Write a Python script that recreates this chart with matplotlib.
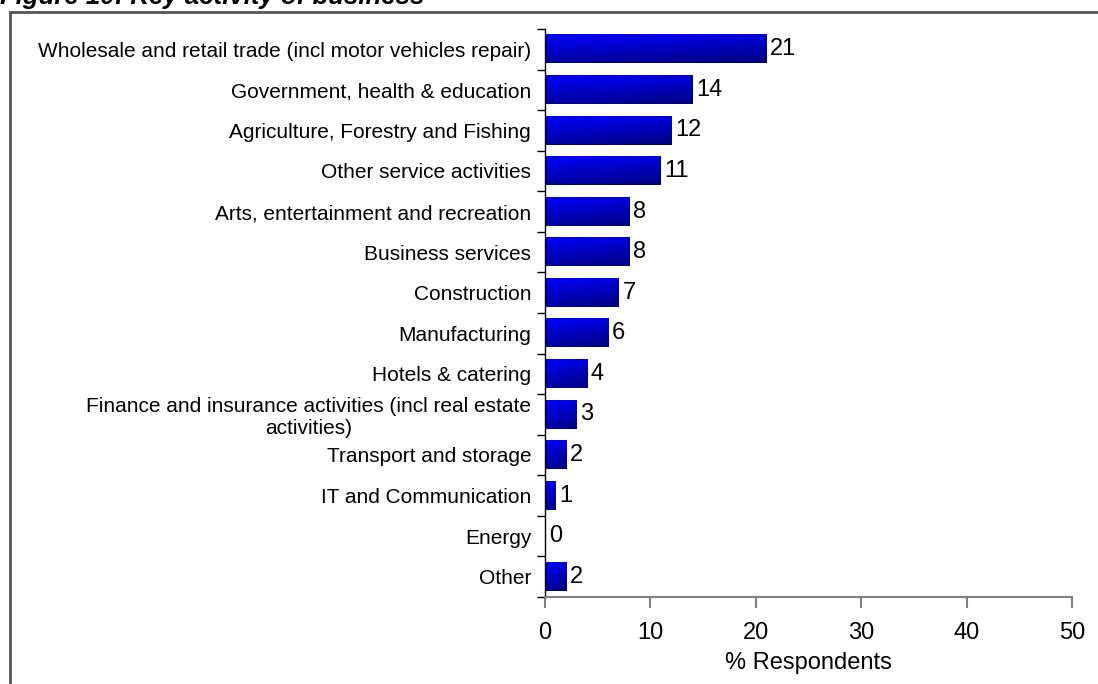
import matplotlib.pyplot as plt
import numpy as np
from matplotlib.patches import Rectangle

plt.rcParams['font.family'] = ['Liberation Sans', 'DejaVu Sans']

activities = [
    "Wholesale and retail trade (incl motor vehicles repair)",
    "Government, health & education",
    "Agriculture, Forestry and Fishing",
    "Other service activities",
    "Arts, entertainment and recreation",
    "Business services",
    "Construction",
    "Manufacturing",
    "Hotels & catering",
    "Finance and insurance activities (incl real estate\nactivities)",
    "Transport and storage",
    "IT and Communication",
    "Energy",
    "Other",
]
pct = [21, 14, 12, 11, 8, 8, 7, 6, 4, 3, 2, 1, 0, 2]

fig = plt.figure(figsize=(10.98, 6.84), dpi=100)
ax = fig.add_axes([0.4964, 0.1272, 0.4799, 0.8304])

# frame around the whole figure
fig.patches.append(Rectangle((10 / 1098, -0.05), 1.1, 1 - 12 / 684 + 0.05,
                             transform=fig.transFigure, fill=False,
                             edgecolor='#555555', linewidth=2))
fig.text(0.0, 1 - 4 / 684, "Figure 10: Key activity of business",
         fontsize=18.5, fontweight='bold', fontstyle='italic', va='baseline')

n = len(activities)
ypos = np.arange(n)
bar_h = 0.7

# diagonal blue gradient for each bar
gx, gy = np.meshgrid(np.linspace(0, 1, 64), np.linspace(0, 1, 64))
t = np.clip(0.75 * gy + 0.25 * gx, 0, 1)
grad = np.zeros((64, 64, 3))
grad[..., 2] = 1.0 - 0.5 * t

for y, v in zip(ypos, pct):
    if v > 0:
        ax.imshow(grad, extent=(0, v, y + bar_h / 2, y - bar_h / 2),
                  aspect='auto', interpolation='bilinear', zorder=2)
    ax.text(v + 0.35, y, str(v), va='center', ha='left', fontsize=17)

ax.set_xlim(0, 50)
ax.set_ylim(n - 0.5, -0.5)
ax.set_yticks(ypos)
ax.set_yticklabels(activities, fontsize=15, multialignment='center')
ax.set_yticks(np.arange(n + 1) - 0.5, minor=True)
ax.tick_params(axis='y', which='major', length=0, pad=10)
ax.tick_params(axis='y', which='minor', length=6, width=1, color='black')
ax.set_xticks(range(0, 51, 10))
ax.tick_params(axis='x', length=8, width=1.5, color='#808080',
               labelsize=17, pad=10)
ax.set_xlabel("% Respondents", fontsize=17, labelpad=6)

for s in ('top', 'right'):
    ax.spines[s].set_visible(False)
ax.spines['left'].set_color('black')
ax.spines['left'].set_linewidth(1)
ax.spines['bottom'].set_color('#808080')
ax.spines['bottom'].set_linewidth(1.5)

fig.savefig('out.png', dpi=100)
